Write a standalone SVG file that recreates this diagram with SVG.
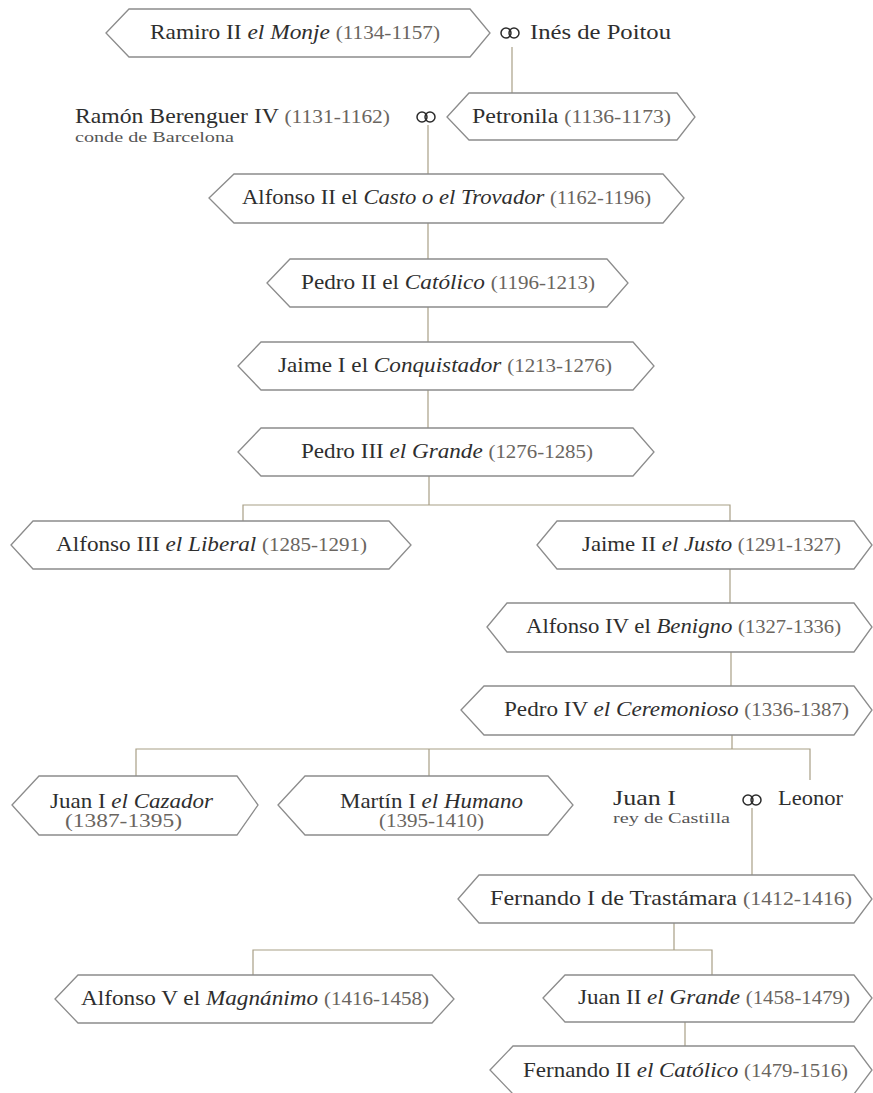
<svg xmlns="http://www.w3.org/2000/svg" width="873" height="1093" viewBox="0 0 873 1093">
<style>
.box{fill:#ffffff;stroke:#8c8c8c;stroke-width:1.3}
.con{fill:none;stroke:#a89f86;stroke-width:1.2}
.ring{fill:none;stroke:#2b2b2b;stroke-width:1.5}
text{font-family:"Liberation Serif","DejaVu Serif",serif;font-size:21px;fill:#2e2e2e}
.i{font-style:italic}
.d{fill:#6a6560;font-size:19px}
.s{font-size:15px;fill:#555}
</style>
<rect width="873" height="1093" fill="#ffffff"/>
<g id="connectors">
<path class="con" d="M512,47 V93"/>
<path class="con" d="M428,125 V174"/>
<path class="con" d="M428,223 V259"/>
<path class="con" d="M428,307 V342"/>
<path class="con" d="M428,390 V428"/>
<path class="con" d="M429,476 V505 M243,521 V505 H730 V521"/>
<path class="con" d="M730,569 V603"/>
<path class="con" d="M731,652 V686"/>
<path class="con" d="M732,735 V749 M136,776 V749 H810 V780 M429,749 V776"/>
<path class="con" d="M752,808 V875"/>
<path class="con" d="M674,923 V950 M253,975 V950 H712 V975"/>
<path class="con" d="M685,1022 V1046"/>
</g>
<g id="ramiro">
<polygon class="box" points="106,33 129,9 470,9 490,33 470,57 129,57"/>
<text x="150" y="39" textLength="290" lengthAdjust="spacingAndGlyphs">Ramiro II <tspan class="i">el Monje</tspan> <tspan class="d">(1134-1157)</tspan></text>
</g>
<g id="ines">
<circle class="ring" cx="506" cy="33" r="5"/><circle class="ring" cx="514" cy="33" r="5"/>
<text x="530" y="39" textLength="141" lengthAdjust="spacingAndGlyphs">Inés de Poitou</text>
</g>
<g id="ramon">
<text x="75" y="123" textLength="315" lengthAdjust="spacingAndGlyphs">Ramón Berenguer IV <tspan class="d">(1131-1162)</tspan></text>
<text class="s" x="75" y="142" textLength="159" lengthAdjust="spacingAndGlyphs">conde de Barcelona</text>
<circle class="ring" cx="422" cy="117" r="5"/><circle class="ring" cx="430" cy="117" r="5"/>
</g>
<g id="petronila">
<polygon class="box" points="447,117 469,93 677,93 695,117 677,140 469,140"/>
<text x="472" y="123" textLength="199" lengthAdjust="spacingAndGlyphs">Petronila <tspan class="d">(1136-1173)</tspan></text>
</g>
<g id="alfonso2">
<polygon class="box" points="209,198 234,174 663,174 684,198 663,223 234,223"/>
<text x="242" y="204" textLength="409" lengthAdjust="spacingAndGlyphs">Alfonso II el <tspan class="i">Casto o el Trovador</tspan> <tspan class="d">(1162-1196)</tspan></text>
</g>
<g id="pedro2">
<polygon class="box" points="267,283 290,259 607,259 628,283 607,307 290,307"/>
<text x="301" y="289" textLength="294" lengthAdjust="spacingAndGlyphs">Pedro II el <tspan class="i">Católico</tspan> <tspan class="d">(1196-1213)</tspan></text>
</g>
<g id="jaime1">
<polygon class="box" points="238,366 261,342 633,342 654,366 633,390 261,390"/>
<text x="278" y="372" textLength="334" lengthAdjust="spacingAndGlyphs">Jaime I el <tspan class="i">Conquistador</tspan> <tspan class="d">(1213-1276)</tspan></text>
</g>
<g id="pedro3">
<polygon class="box" points="238,452 261,428 633,428 654,452 633,476 261,476"/>
<text x="301" y="458" textLength="292" lengthAdjust="spacingAndGlyphs">Pedro III <tspan class="i">el Grande</tspan> <tspan class="d">(1276-1285)</tspan></text>
</g>
<g id="alfonso3">
<polygon class="box" points="11,545 33,521 389,521 411,545 389,569 33,569"/>
<text x="56" y="551" textLength="311" lengthAdjust="spacingAndGlyphs">Alfonso III <tspan class="i">el Liberal</tspan> <tspan class="d">(1285-1291)</tspan></text>
</g>
<g id="jaime2">
<polygon class="box" points="537,545 557,521 854,521 872,545 854,569 557,569"/>
<text x="582" y="551" textLength="259" lengthAdjust="spacingAndGlyphs">Jaime II <tspan class="i">el Justo</tspan> <tspan class="d">(1291-1327)</tspan></text>
</g>
<g id="alfonso4">
<polygon class="box" points="487,627 507,603 854,603 872,627 854,652 507,652"/>
<text x="526" y="633" textLength="315" lengthAdjust="spacingAndGlyphs">Alfonso IV el <tspan class="i">Benigno</tspan> <tspan class="d">(1327-1336)</tspan></text>
</g>
<g id="pedro4">
<polygon class="box" points="461,710 484,686 854,686 872,710 854,735 484,735"/>
<text x="504" y="716" textLength="345" lengthAdjust="spacingAndGlyphs">Pedro IV <tspan class="i">el Ceremonioso</tspan> <tspan class="d">(1336-1387)</tspan></text>
</g>
<g id="juan1cazador">
<polygon class="box" points="12,805 39,776 237,776 258,805 237,835 39,835"/>
<text x="50" y="808" textLength="163" lengthAdjust="spacingAndGlyphs">Juan I <tspan class="i">el Cazador</tspan></text>
<text class="d" x="65" y="827" textLength="117" lengthAdjust="spacingAndGlyphs">(1387-1395)</text>
</g>
<g id="martin1">
<polygon class="box" points="278,805 305,776 548,776 573,805 548,835 305,835"/>
<text x="340" y="808" textLength="183" lengthAdjust="spacingAndGlyphs">Martín I <tspan class="i">el Humano</tspan></text>
<text class="d" x="379" y="827" textLength="105" lengthAdjust="spacingAndGlyphs">(1395-1410)</text>
</g>
<g id="juan1castilla">
<text x="613" y="805" textLength="63" lengthAdjust="spacingAndGlyphs">Juan I</text>
<text class="s" x="613" y="823" textLength="117" lengthAdjust="spacingAndGlyphs">rey de Castilla</text>
</g>
<g id="leonor">
<circle class="ring" cx="748" cy="800" r="5"/><circle class="ring" cx="756" cy="800" r="5"/>
<text x="778" y="805" textLength="65" lengthAdjust="spacingAndGlyphs">Leonor</text>
</g>
<g id="fernando1">
<polygon class="box" points="458,899 479,875 854,875 872,899 854,923 479,923"/>
<text x="490" y="905" textLength="362" lengthAdjust="spacingAndGlyphs">Fernando I de Trastámara <tspan class="d">(1412-1416)</tspan></text>
</g>
<g id="alfonso5">
<polygon class="box" points="55,999 78,975 432,975 454,999 432,1023 78,1023"/>
<text x="81" y="1005" textLength="348" lengthAdjust="spacingAndGlyphs">Alfonso V el <tspan class="i">Magnánimo</tspan> <tspan class="d">(1416-1458)</tspan></text>
</g>
<g id="juan2">
<polygon class="box" points="543,998 565,975 854,975 872,998 854,1022 565,1022"/>
<text x="578" y="1004" textLength="272" lengthAdjust="spacingAndGlyphs">Juan II <tspan class="i">el Grande</tspan> <tspan class="d">(1458-1479)</tspan></text>
</g>
<g id="fernando2">
<polygon class="box" points="490,1070 513,1046 854,1046 872,1070 854,1094 513,1094"/>
<text x="523" y="1077" textLength="325" lengthAdjust="spacingAndGlyphs">Fernando II <tspan class="i">el Católico</tspan> <tspan class="d">(1479-1516)</tspan></text>
</g>
</svg>
